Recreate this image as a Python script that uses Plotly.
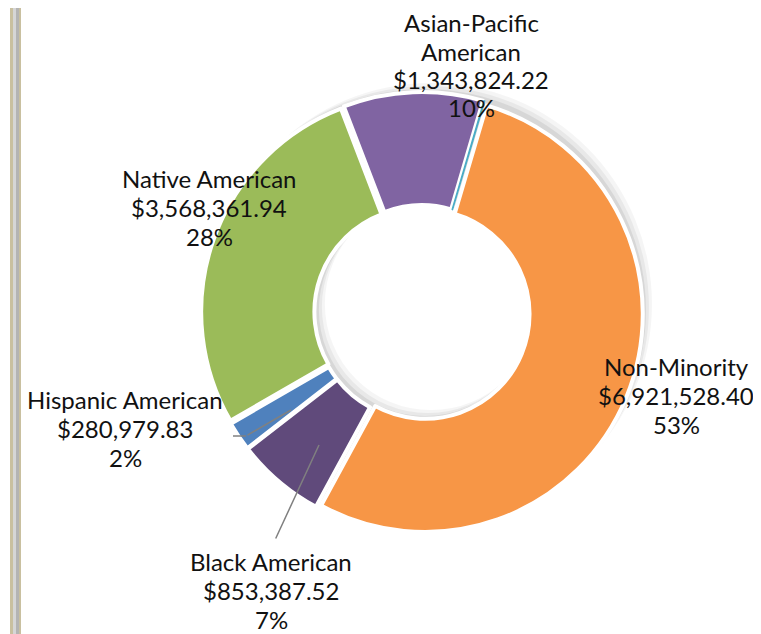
import plotly.graph_objects as go

# ---- data ----
categories = ["Asian-Pacific American", "Other", "Non-Minority", "Black American",
              "Hispanic American", "Native American"]
values = [1343824.22, 6000.00, 6921528.40, 853387.52, 280979.83, 3568361.94]
colors = ["#8064A2", "#4BACC6", "#F79646", "#604A7B", "#4F81BD", "#9BBB59"]
show_label = [True, False, True, True, True, True]

W, H = 761, 634
total = sum(values)

def px(x):
    return x / W

def py(y):
    return 1 - y / H

fig = go.Figure()

# soft shadow (decoration) behind the ring, offset up-right
cx, cy, R = 414, 305, 221
for off, op in [(9, 0.04), (6, 0.05), (3, 0.07)]:
    fig.add_trace(go.Pie(
        values=[total], labels=["shadow"], hole=0.48, sort=False,
        marker=dict(colors=[f"rgba(0,0,0,{op})"], line=dict(width=0)),
        textinfo="none", hoverinfo="skip", showlegend=False,
        domain=dict(x=[px(cx - R + off), px(cx + R + off)],
                    y=[py(cy + R - off), py(cy - R - off)]),
    ))

line_colors = ["white" if c != "Other" else "#4BACC6" for c in categories]
line_widths = [4 if c != "Other" else 1.5 for c in categories]

fig.add_trace(go.Pie(
    labels=categories, values=values, hole=0.48, sort=False,
    direction="clockwise", rotation=-21,
    pull=[0.015] * len(values),
    marker=dict(colors=colors, line=dict(color=line_colors, width=line_widths)),
    textinfo="none", showlegend=False,
    domain=dict(x=[px(cx - R), px(cx + R)], y=[py(cy + R), py(cy - R)]),
))

# label positions: centre x, centre y of the first line, line step (pixels)
label_pos = {
    "Asian-Pacific American": (463, 15, 28.3),
    "Non-Minority": (668, 358, 29.3),
    "Black American": (263, 553, 29.3),
    "Hispanic American": (117, 391, 29.3),
    "Native American": (201, 170, 29.3),
}

annotations = []
for name, v, show in zip(categories, values, show_label):
    if not show:
        continue
    x, y, step = label_pos[name]
    name_lines = ["Asian-Pacific", "American"] if name == "Asian-Pacific American" else [name]
    lines = name_lines + [f"${v:,.2f}", f"{round(v / total * 100):.0f}%"]
    for i, ln in enumerate(lines):
        annotations.append(dict(
            x=px(x), y=py(y + i * step), xref="paper", yref="paper",
            text=ln, showarrow=False, xanchor="center", yanchor="middle",
            font=dict(family="Lato", size=24, color="#111111"),
        ))

# leader lines
annotations.append(dict(x=px(311), y=py(437), xref="paper", yref="paper", text="",
                        showarrow=True, arrowhead=0, arrowwidth=1.5, arrowcolor="#808080",
                        ax=267 - 311, ay=532 - 437, standoff=0))
annotations.append(dict(x=px(283), y=py(402), xref="paper", yref="paper", text="",
                        showarrow=True, arrowhead=0, arrowwidth=1.5, arrowcolor="#808080",
                        ax=238 - 283, ay=428 - 402, standoff=0))

shapes = [
    dict(type="line", xref="paper", yref="paper", x0=px(225), x1=px(238), y0=py(428), y1=py(428),
         line=dict(color="#808080", width=1.5)),
    # left frame border (decoration)
    dict(type="rect", xref="paper", yref="paper", x0=px(2), x1=px(5), y0=0, y1=1,
         fillcolor="#C9C0A0", line=dict(width=0), layer="below"),
    dict(type="rect", xref="paper", yref="paper", x0=px(5), x1=px(8), y0=0, y1=1,
         fillcolor="#D6D6D6", line=dict(width=0), layer="below"),
    dict(type="rect", xref="paper", yref="paper", x0=px(8), x1=px(11), y0=0, y1=1,
         fillcolor="#B4B4B4", line=dict(width=0), layer="below"),
    dict(type="rect", xref="paper", yref="paper", x0=px(11), x1=px(13), y0=0, y1=1,
         fillcolor="#C9C0A0", line=dict(width=0), layer="below"),
]

fig.update_layout(
    width=W, height=H, margin=dict(l=0, r=0, t=0, b=0),
    paper_bgcolor="white", plot_bgcolor="white",
    annotations=annotations, shapes=shapes,
)

fig.write_html("out.html")
